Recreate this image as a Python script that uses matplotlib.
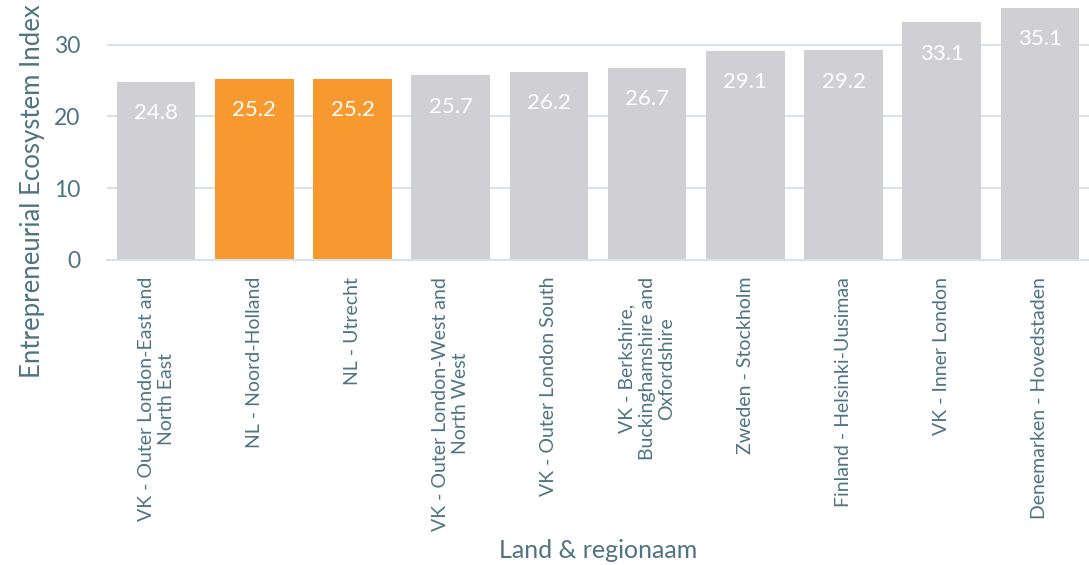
import matplotlib
matplotlib.use("Agg")
import matplotlib.pyplot as plt

categories = [
    "VK - Outer London-East and\nNorth East",
    "NL - Noord-Holland",
    "NL - Utrecht",
    "VK - Outer London-West and\nNorth West",
    "VK - Outer London South",
    "VK - Berkshire,\nBuckinghamshire and\nOxfordshire",
    "Zweden - Stockholm",
    "Finland - Helsinki-Uusimaa",
    "VK - Inner London",
    "Denemarken - Hovedstaden",
]
values = [24.8, 25.2, 25.2, 25.7, 26.2, 26.7, 29.1, 29.2, 33.1, 35.1]
highlight = [False, True, True, False, False, False, False, False, False, False]

GRAY = "#d0cfd4"
ORANGE = "#f7992f"
TEXT = "#4e7384"
GRID = "#d8e2e8"

plt.rcParams['font.family'] = ['Lato', 'DejaVu Sans']

fig = plt.figure(figsize=(10.89, 5.65), dpi=100)
ax = fig.add_axes([107/1089, (565-260)/565, 1 - 107/1089, 260/565])

x = list(range(len(categories)))
colors = [ORANGE if h else GRAY for h in highlight]
bars = ax.bar(x, values, width=0.8, color=colors, zorder=2)

for xi, v in zip(x, values):
    ax.annotate(f"{v:.1f}", xy=(xi, v), xytext=(0, -22.5), textcoords="offset points",
                ha="center", va="center", color="white", fontsize=16, zorder=3)

ax.set_ylim(0, 36.2)
ax.set_xlim(-0.5, len(categories) - 0.5)
ax.set_yticks([0, 10, 20, 30])
ax.yaxis.grid(True, color=GRID, linewidth=1.5, zorder=0)
ax.set_axisbelow(True)
for s in ["top", "right", "left"]:
    ax.spines[s].set_visible(False)
ax.spines["bottom"].set_color(GRID)
ax.spines["bottom"].set_linewidth(1.5)
ax.tick_params(axis="both", length=0, colors=TEXT)
ax.tick_params(axis="y", labelsize=16.5, pad=19)
ax.set_xticks(x)
ax.set_xticklabels(categories, rotation=90, fontsize=14, ha="center", va="top",
                   multialignment="center", color=TEXT)
ax.tick_params(axis="x", pad=12)

fig.text(33/1089, (565-191)/565, "Entrepreneurial Ecosystem Index", rotation=90,
         ha="center", va="center", color=TEXT, fontsize=18.5)
fig.text(598/1089, (565-550)/565, "Land & regionaam", ha="center", va="center",
         color=TEXT, fontsize=18)

fig.savefig("out.png", dpi=100)
